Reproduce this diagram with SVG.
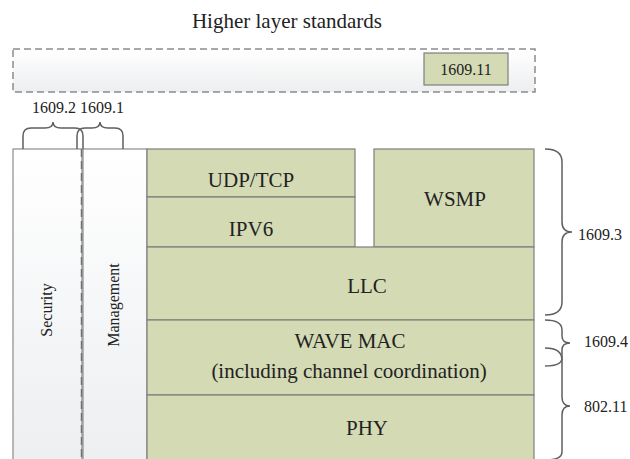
<svg xmlns="http://www.w3.org/2000/svg" width="630" height="459" viewBox="0 0 630 459">
<defs>
<linearGradient id="gTop" x1="0" y1="0" x2="0" y2="1">
<stop offset="0" stop-color="#ffffff"/>
<stop offset="1" stop-color="#eceeef"/>
</linearGradient>
<linearGradient id="gCol" x1="0" y1="0" x2="0" y2="1">
<stop offset="0" stop-color="#ffffff"/>
<stop offset="1" stop-color="#eceef0"/>
</linearGradient>
</defs>
<style>
text{font-family:"Liberation Serif","Times New Roman",serif;fill:#222;}
.big{font-size:21px;text-anchor:middle;}
.lab{font-size:16px;}
.mid{text-anchor:middle;}
.box{fill:#d3dab4;stroke:#7f7f7f;stroke-width:1.2;}
.col{fill:url(#gCol);stroke:#8c8c8c;stroke-width:1.2;}
.brace{fill:none;stroke:#5f5f5f;stroke-width:1.5;}
</style>
<rect width="630" height="459" fill="#ffffff"/>

<g id="title">
<text class="big" x="287" y="28">Higher layer standards</text>
</g>

<g id="higher-layer">
<rect x="13" y="49" width="522" height="43" fill="url(#gTop)" stroke="#8c8c8c" stroke-width="1.5" stroke-dasharray="7,4"/>
</g>
<g id="n1609-11">
<rect class="box" x="424" y="53" width="84" height="32"/>
<text class="lab mid" x="466" y="75">1609.11</text>
</g>

<g id="security">
<rect class="col" x="13" y="149" width="69" height="320"/>
<line x1="81.5" y1="149" x2="81.5" y2="459" stroke="#6f6f6f" stroke-width="1.5" stroke-dasharray="8,4"/>
<text class="lab mid" transform="translate(52,310) rotate(-90)">Security</text>
</g>
<g id="management">
<rect class="col" x="83" y="149" width="64" height="320"/>
<text class="lab mid" transform="translate(119,305) rotate(-90)">Management</text>
</g>

<g id="udp-tcp">
<rect class="box" x="147" y="149" width="208" height="48"/>
<text class="big" x="251" y="187">UDP/TCP</text>
</g>
<g id="ipv6">
<rect class="box" x="147" y="197" width="208" height="50"/>
<text class="big" x="251" y="236">IPV6</text>
</g>
<g id="wsmp">
<rect class="box" x="374" y="149" width="160" height="98"/>
<text class="big" x="455" y="206">WSMP</text>
</g>
<g id="llc">
<rect class="box" x="147" y="247" width="387" height="73"/>
<text class="big" x="367" y="293">LLC</text>
</g>
<g id="wave-mac">
<rect class="box" x="147" y="320" width="387" height="75"/>
<text class="big" x="350" y="348">WAVE MAC</text>
<text class="big" x="349" y="378">(including channel coordination)</text>
</g>
<g id="phy">
<rect class="box" x="147" y="395" width="387" height="75"/>
<text class="big" x="367" y="435">PHY</text>
</g>

<g id="labels">
<text class="lab mid" x="54" y="113">1609.2</text>
<text class="lab mid" x="102" y="113">1609.1</text>
<text class="lab" x="578" y="240">1609.3</text>
<text class="lab" x="584" y="347">1609.4</text>
<text class="lab" x="584" y="412">802.11</text>
</g>

<g id="connectors">
<path class="brace" d="M23,149 L23,136 Q23,128 31,128 L45,128 Q53,128 53,122 Q53,128 61,128 L75,128 Q83,128 83,136 L83,149"/>
<path class="brace" d="M77,149 L77,136 Q77,128 85,128 L92,128 Q100,128 100,122 Q100,128 108,128 L115,128 Q123,128 123,136 L123,149"/>
<path class="brace" d="M545,149 Q562,149 562,162 L562,222 Q562,232 572,232 Q562,232 562,242 L562,302 Q562,315 545,315"/>
<path class="brace" d="M545,320 Q562,320 562,330 L562,336 Q562,343 570,343 Q562,343 562,350 L562,358 Q562,366 545,366"/>
<path class="brace" d="M545,348 Q562,348 562,360 L562,397 Q562,406 570,406 Q562,406 562,415 L562,452 Q562,460 545,460"/>
</g>
</svg>
